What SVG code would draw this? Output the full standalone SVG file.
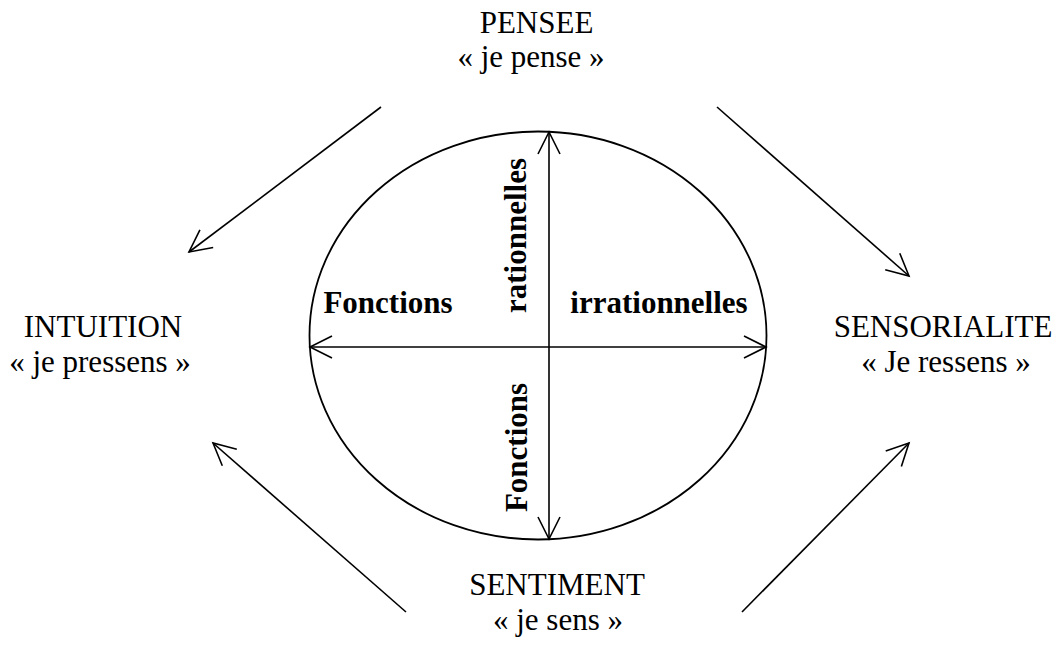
<svg xmlns="http://www.w3.org/2000/svg" width="1064" height="646" viewBox="0 0 1064 646">
<style>
.t{font-family:"Liberation Serif","Times New Roman",serif;font-size:31px;fill:#000;text-anchor:middle}
.b{font-family:"Liberation Serif","Times New Roman",serif;font-size:31px;font-weight:bold;fill:#000;text-anchor:middle}
.ln{stroke:#000;stroke-width:1.6;fill:none}
</style>
<defs>
<marker id="ah" markerUnits="userSpaceOnUse" orient="auto-start-reverse" overflow="visible" markerWidth="1" markerHeight="1" refX="0" refY="0">
<path d="M-22,-11 L0,0 L-22,11" fill="none" stroke="#000" stroke-width="1.6"/>
</marker>
</defs>
<rect width="1064" height="646" fill="#fff"/>
<g id="ellipse">
<ellipse cx="538" cy="335.5" rx="228.5" ry="204" fill="none" stroke="#000" stroke-width="1.8"/>
<text class="b" x="388" y="313">Fonctions</text>
<text class="b" x="659" y="313">irrationnelles</text>
<text class="b" transform="translate(526,235.5) rotate(-90)" x="0" y="0">rationnelles</text>
<text class="b" transform="translate(527,447.5) rotate(-90)" x="0" y="0">Fonctions</text>
</g>
<g id="pensee">
<text class="t" x="536.5" y="33">PENSEE</text>
<text class="t" x="531" y="67">« je pense »</text>
</g>
<g id="intuition">
<text class="t" x="103" y="337">INTUITION</text>
<text class="t" x="100" y="372">« je pressens »</text>
</g>
<g id="sensorialite">
<text class="t" x="943" y="337">SENSORIALITE</text>
<text class="t" x="946" y="372">« Je ressens »</text>
</g>
<g id="sentiment">
<text class="t" x="557" y="595">SENTIMENT</text>
<text class="t" x="558" y="630">« je sens »</text>
</g>
<g id="connectors">
<line class="ln" x1="310" y1="347" x2="766" y2="347" marker-start="url(#ah)" marker-end="url(#ah)"/>
<line class="ln" x1="549" y1="132" x2="549" y2="539" marker-start="url(#ah)" marker-end="url(#ah)"/>
<line class="ln" x1="381" y1="107" x2="189" y2="252" marker-end="url(#ah)"/>
<line class="ln" x1="717" y1="107" x2="909" y2="276" marker-end="url(#ah)"/>
<line class="ln" x1="406" y1="612" x2="213" y2="443" marker-end="url(#ah)"/>
<line class="ln" x1="742" y1="612" x2="909" y2="443" marker-end="url(#ah)"/>
</g>
</svg>
